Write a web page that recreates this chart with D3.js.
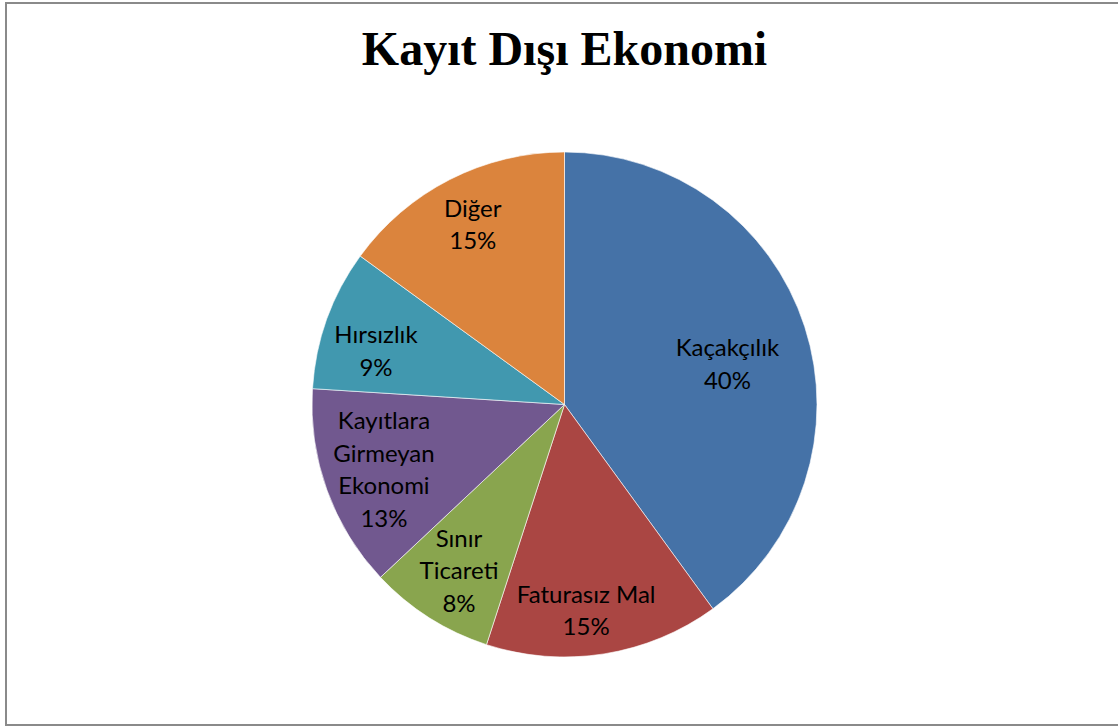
<!DOCTYPE html>
<html>
<head>
<meta charset="utf-8">
<script src="https://cdn.jsdelivr.net/npm/d3@7"></script>
<style>
  body { margin: 0; background: #fff; }
  svg { display: block; }
</style>
</head>
<body>
<div id="chart"></div>
<script>
// DATA
const title = 'Kayıt Dışı Ekonomi';
const categories = ['Kaçakçılık', 'Faturasız Mal', 'Sınır Ticareti', 'Kayıtlara Girmeyan Ekonomi', 'Hırsızlık', 'Diğer'];
const labelLines = [['Kaçakçılık'], ['Faturasız Mal'], ['Sınır', 'Ticareti'], ['Kayıtlara', 'Girmeyan', 'Ekonomi'], ['Hırsızlık'], ['Diğer']];
const values = [40, 15, 8, 13, 9, 15];
const colors = ['#4572A7', '#AA4643', '#89A54E', '#71588F', '#4198AF', '#DB843D'];

// layout: label distance (fraction of radius) and angle nudge (degrees), like excel's best fit
const labelRadius = [0.665, 0.82, 0.78, 0.76, 0.776, 0.80];
const labelNudge = [4, 3, 0, 0, -4, 0];

const width = 1118;
const height = 727;
const cx = 564.5;
const cy = 404.5;
const radius = 252.5;

const svg = d3.select('#chart').append('svg')
  .attr('width', width)
  .attr('height', height);

svg.append('rect')
  .attr('x', 6)
  .attr('y', 3)
  .attr('width', width + 20)
  .attr('height', 722)
  .attr('fill', '#fff')
  .attr('stroke', '#8a8a8a')
  .attr('stroke-width', 2);

svg.append('text')
  .attr('x', cx)
  .attr('y', 65)
  .attr('text-anchor', 'middle')
  .attr('font-family', '"Liberation Serif", "Times New Roman", serif')
  .attr('font-weight', 'bold')
  .attr('font-size', 48)
  .attr('fill', '#000')
  .text(title);

const pie = d3.pie().sort(null).value(d => d);
const arcs = pie(values);

const arc = d3.arc().innerRadius(0).outerRadius(radius);

const g = svg.append('g')
  .attr('transform', 'translate(' + cx + ',' + cy + ')');

g.selectAll('path')
  .data(arcs)
  .enter()
  .append('path')
  .attr('d', arc)
  .attr('fill', (d, i) => colors[i])
  .attr('stroke', '#fff')
  .attr('stroke-width', 0.6);

const lineHeight = 32.5;

arcs.forEach((d, i) => {
  const r = radius * labelRadius[i];
  const shift = labelNudge[i] * Math.PI / 180;
  const c = d3.arc().innerRadius(r).outerRadius(r)
    .centroid({ startAngle: d.startAngle + shift, endAngle: d.endAngle + shift });
  const lines = labelLines[i].concat([values[i] + '%']);
  const top = c[1] - (lines.length - 1) * lineHeight / 2;
  const t = g.append('text')
    .attr('text-anchor', 'middle')
    .attr('font-family', 'Lato, "Open Sans", sans-serif')
    .attr('font-size', 24)
    .attr('fill', '#000');
  lines.forEach((s, j) => {
    t.append('tspan')
      .attr('x', c[0])
      .attr('y', top + j * lineHeight)
      .attr('dy', '0.35em')
      .text(s);
  });
});
</script>
</body>
</html>
